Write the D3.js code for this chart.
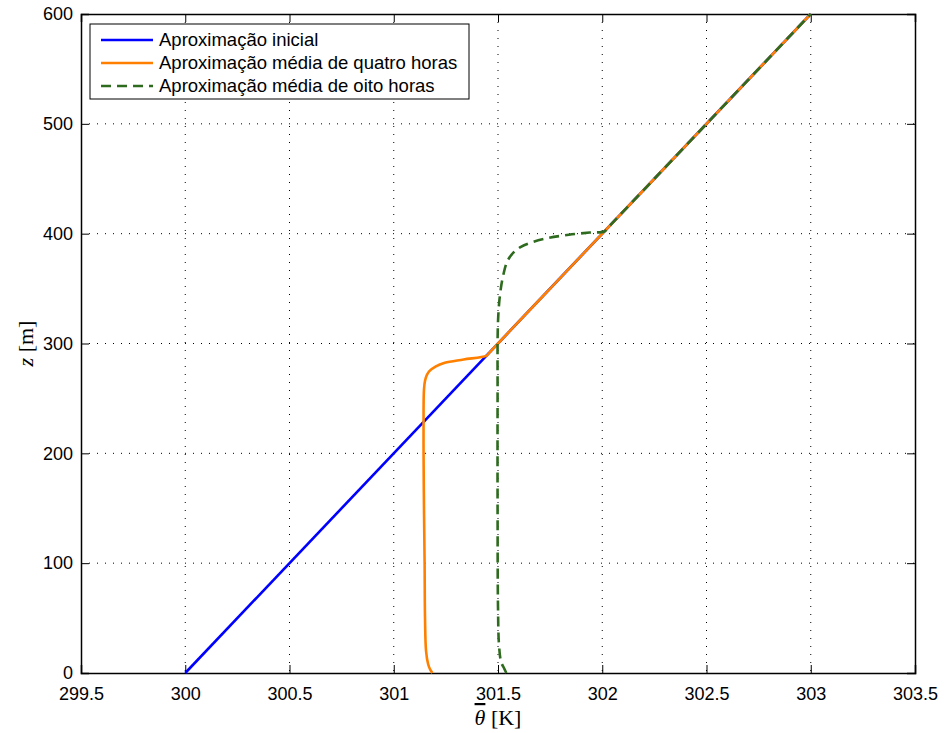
<!DOCTYPE html>
<html>
<head>
<meta charset="utf-8">
<script src="https://cdn.jsdelivr.net/npm/d3@7"></script>
<style>
  body { margin: 0; background: #fff; }
  svg text { font-family: "Liberation Sans", Arial, sans-serif; }
</style>
</head>
<body>
<div class="chart"></div>
<script>
// ---- data ----
var xTicks = [299.5, 300, 300.5, 301, 301.5, 302, 302.5, 303, 303.5];
var yTicks = [0, 100, 200, 300, 400, 500, 600];

var seriesNames = ["Aproximação inicial", "Aproximação média de quatro horas", "Aproximação média de oito horas"];

// initial profile
var zInit = [0, 600];
var thetaInit = [300, 303];

// four hour mean
var zFour = [0, 3, 8, 20, 50, 100, 150, 200, 240, 258, 266, 271, 275, 279, 282.5, 285.5, 289, 292, 300, 350, 450, 600];
var thetaFour = [301.185, 301.175, 301.165, 301.155, 301.15, 301.148, 301.145, 301.143, 301.143, 301.145,
                 301.15, 301.158, 301.172, 301.2, 301.245, 301.335, 301.445, 301.46, 301.5, 301.75, 302.25, 303.0];

// eight hour mean
var zEight = [0, 4, 10, 25, 60, 150, 250, 320, 345, 362, 375, 383, 388, 392, 396, 399, 401, 402, 406, 415, 450, 520, 600];
var thetaEight = [301.54, 301.53, 301.515, 301.505, 301.5, 301.498, 301.498, 301.5, 301.51, 301.525, 301.545,
                  301.575, 301.61, 301.66, 301.74, 301.84, 301.94, 302.01, 302.03, 302.075, 302.25, 302.6, 303.0];

var colorsList = ["#0000ff", "#ff8000", "#2e6b1f"];

// ---- layout ----
var margin = { top: 14, right: 29, bottom: 60, left: 81 },
    width = 944 - margin.left - margin.right,
    height = 733 - margin.top - margin.bottom;

var svgRoot = d3.select(".chart").append("svg")
    .attr("width", 944)
    .attr("height", 733);

var svg = svgRoot.append("g")
    .attr("transform", "translate(" + margin.left + "," + margin.top + ")");

var x = d3.scaleLinear().domain([299.5, 303.5]).range([0, width]);
var y = d3.scaleLinear().domain([0, 600]).range([height, 0]);

// grid (dotted)
svg.append("g").selectAll("line")
    .data(xTicks.slice(1, -1))
    .enter().append("line")
    .attr("x1", function(d) { return x(d); })
    .attr("x2", function(d) { return x(d); })
    .attr("y1", 0).attr("y2", height)
    .attr("stroke", "#000").attr("stroke-width", 1)
    .attr("stroke-dasharray", "1,7");

svg.append("g").selectAll("line")
    .data(yTicks.slice(1, -1))
    .enter().append("line")
    .attr("y1", function(d) { return y(d); })
    .attr("y2", function(d) { return y(d); })
    .attr("x1", 0).attr("x2", width)
    .attr("stroke", "#000").attr("stroke-width", 1)
    .attr("stroke-dasharray", "1,7");

// axes, ticks pointing inward
var xAxis = svg.append("g")
    .attr("transform", "translate(0," + height + ")")
    .call(d3.axisBottom(x).tickValues(xTicks).tickSize(-8).tickPadding(14)
        .tickFormat(function(d) { return d3.format("")(d); }));

var xAxisTop = svg.append("g")
    .call(d3.axisTop(x).tickValues(xTicks).tickSize(-8).tickFormat(""));

var yAxis = svg.append("g")
    .call(d3.axisLeft(y).tickValues(yTicks).tickSize(-8).tickPadding(8));

var yAxisRight = svg.append("g")
    .attr("transform", "translate(" + width + ",0)")
    .call(d3.axisRight(y).tickValues(yTicks).tickSize(-8).tickFormat(""));

[xAxis, xAxisTop, yAxis, yAxisRight].forEach(function(a) {
    a.select(".domain").attr("stroke", "#000").attr("stroke-width", 1.5);
    a.selectAll(".tick line").attr("stroke", "#000").attr("stroke-width", 1);
    a.selectAll("text")
        .style("font-family", "'Liberation Sans', Arial, sans-serif")
        .style("font-size", "18px")
        .attr("fill", "#000");
});

// lines
var lineGen = d3.line()
    .x(function(d) { return x(d.t); })
    .y(function(d) { return y(d.z); })
    .curve(d3.curveCatmullRom.alpha(0.5));

function pack(zs, ts) {
    return zs.map(function(z, i) { return { z: z, t: ts[i] }; });
}

var series = [pack(zInit, thetaInit), pack(zFour, thetaFour), pack(zEight, thetaEight)];
var dashes = [null, null, "10,6"];

series.forEach(function(s, i) {
    svg.append("path")
        .datum(s)
        .attr("d", lineGen)
        .attr("fill", "none")
        .attr("stroke", colorsList[i])
        .attr("stroke-width", 2.6)
        .attr("stroke-dasharray", dashes[i]);
});

// legend
var legend = svg.append("g").attr("transform", "translate(9,10)");
legend.append("rect")
    .attr("width", 379).attr("height", 75)
    .attr("fill", "#fff").attr("stroke", "#000").attr("stroke-width", 1);

seriesNames.forEach(function(name, i) {
    var row = legend.append("g").attr("transform", "translate(0," + (16 + i * 23) + ")");
    row.append("line")
        .attr("x1", 11).attr("x2", 63)
        .attr("stroke", colorsList[i]).attr("stroke-width", 2.6)
        .attr("stroke-dasharray", dashes[i]);
    row.append("text")
        .attr("x", 69).attr("dy", "0.35em")
        .style("font-size", "18.5px")
        .text(name);
});

// axis labels
var xl = svgRoot.append("text")
    .attr("x", margin.left + width / 2)
    .attr("y", 725)
    .attr("text-anchor", "middle")
    .style("font-family", "'Liberation Serif', 'DejaVu Serif', serif")
    .style("font-size", "22px");
xl.append("tspan").style("font-style", "italic").style("text-decoration", "overline").text("θ");
xl.append("tspan").text(" [K]");

var yl = svgRoot.append("text")
    .attr("transform", "translate(33," + (margin.top + height / 2) + ") rotate(-90)")
    .attr("text-anchor", "middle")
    .style("font-family", "'Liberation Serif', 'DejaVu Serif', serif")
    .style("font-size", "22px");
yl.append("tspan").style("font-style", "italic").text("z");
yl.append("tspan").text(" [m]");
</script>
</body>
</html>
